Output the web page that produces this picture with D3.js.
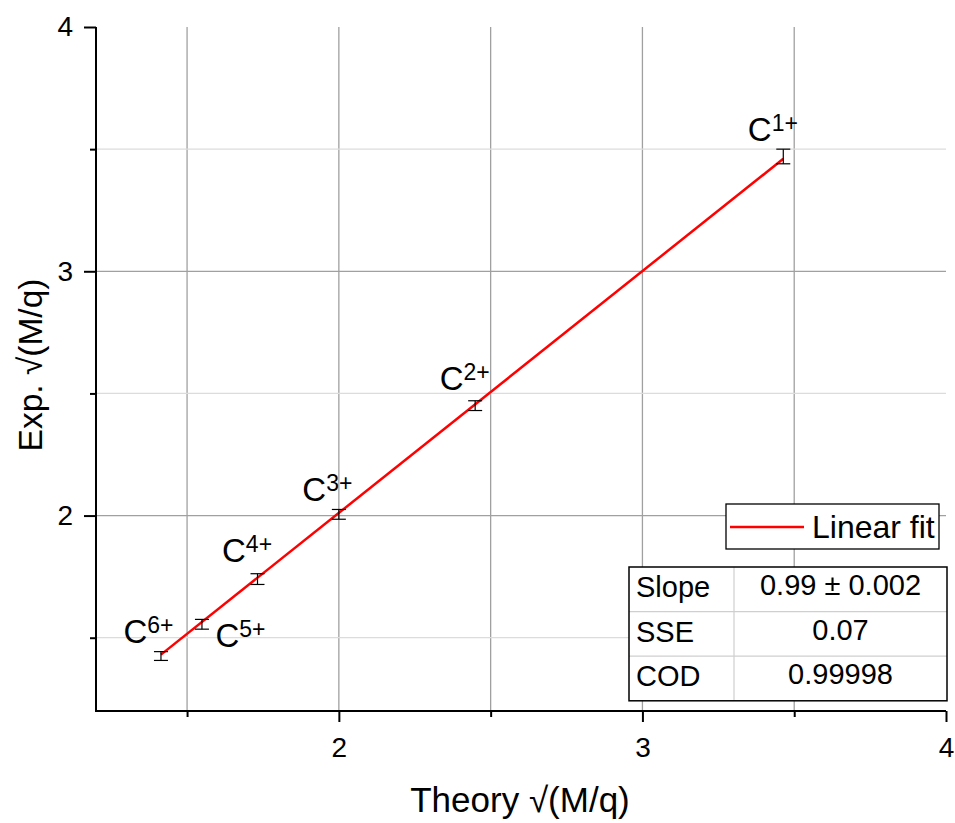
<!DOCTYPE html>
<html><head><meta charset="utf-8">
<script src="https://cdn.jsdelivr.net/npm/d3@7"></script>
<style>
html,body{margin:0;padding:0;background:#fff;}
svg{display:block;font-family:"Liberation Sans",Arial,sans-serif;}
.tick text{font-size:28px !important;font-family:"Liberation Sans",Arial,sans-serif !important;}
</style></head>
<body><svg id="c" width="955" height="823"></svg>
<script>
// ---- data ----
const labels = ["C", "C", "C", "C", "C", "C"];
const charges = ["1+", "2+", "3+", "4+", "5+", "6+"];
const theoryVals = [3.464, 2.449, 2.000, 1.732, 1.549, 1.414];
const expVals = [3.47, 2.45, 2.005, 1.74, 1.555, 1.425];
const expErr = [0.03, 0.02, 0.02, 0.022, 0.02, 0.018];
const fitSlope = 0.99;
const fitIntercept = 0.031;
const fitRange = [1.414, 3.464];
const majorTicks = [2, 3, 4];
const minorTicks = [1.5, 2.5, 3.5];
const tableRows = [["Slope", "0.99 \u00B1 0.002"], ["SSE", "0.07"], ["COD", "0.99998"]];
const legendLabel = "Linear fit";
const xTitle = "Theory \u221A(M/q)";
const yTitle = "Exp. \u221A(M/q)";

// ---- layout ----
const svg = d3.select("#c");
const L = 96, R = 946, T = 27, B = 711;
const x = d3.scaleLinear().domain([1.2, 4]).range([L, R]);
const y = d3.scaleLinear().domain([1.2, 4]).range([B, T]);

// grid
const g = svg.append("g");
[...minorTicks, 2, 3].forEach(v => {
  g.append("line").attr("x1", x(v)).attr("x2", x(v)).attr("y1", T).attr("y2", B)
    .attr("stroke", "#a0a0a0").attr("stroke-width", 1.3);
});
minorTicks.forEach(v => {
  g.append("line").attr("x1", L).attr("x2", R).attr("y1", y(v)).attr("y2", y(v))
    .attr("stroke", "#dcdcdc").attr("stroke-width", 1.3);
});
[2, 3].forEach(v => {
  g.append("line").attr("x1", L).attr("x2", R).attr("y1", y(v)).attr("y2", y(v))
    .attr("stroke", "#a0a0a0").attr("stroke-width", 1.3);
});

// axes
const xAxis = d3.axisBottom(x).tickValues(majorTicks).tickSize(11).tickPadding(15).tickFormat(d3.format("d"));
const yAxis = d3.axisLeft(y).tickValues(majorTicks).tickSize(12).tickPadding(11).tickFormat(d3.format("d"));
const xMinor = d3.axisBottom(x).tickValues(minorTicks).tickSize(6).tickFormat("");
const yMinor = d3.axisLeft(y).tickValues(minorTicks).tickSize(6).tickFormat("");

function styleAxis(sel) {
  sel.attr("font-size", 28).attr("font-family", "'Liberation Sans',Arial,sans-serif");
  sel.select(".domain").remove();
  sel.selectAll("line").attr("stroke", "#000").attr("stroke-width", 2);
  sel.selectAll("text").attr("fill", "#000").attr("font-size", 28);
}
svg.append("g").attr("transform", `translate(0,${B})`).call(xAxis).call(styleAxis);
svg.append("g").attr("transform", `translate(${L},0)`).call(yAxis).call(styleAxis);
svg.append("g").attr("transform", `translate(0,${B})`).call(xMinor).call(styleAxis);
svg.append("g").attr("transform", `translate(${L},0)`).call(yMinor).call(styleAxis);
svg.append("path").attr("d", `M${L},${T}V${B}H${R}`).attr("fill", "none")
  .attr("stroke", "#000").attr("stroke-width", 2);

// fit line
svg.append("line")
  .attr("x1", x(fitRange[0])).attr("y1", y(fitSlope * fitRange[0] + fitIntercept))
  .attr("x2", x(fitRange[1])).attr("y2", y(fitSlope * fitRange[1] + fitIntercept))
  .attr("stroke", "#ff0000").attr("stroke-width", 2.5);

// error bars
const eb = svg.append("g").attr("stroke", "#000").attr("stroke-width", 1.2);
theoryVals.forEach((tv, i) => {
  const cx = x(tv), y1 = y(expVals[i] + expErr[i]), y2 = y(expVals[i] - expErr[i]);
  eb.append("line").attr("x1", cx).attr("x2", cx).attr("y1", y1).attr("y2", y2);
  eb.append("line").attr("x1", cx - 7).attr("x2", cx + 7).attr("y1", y1).attr("y2", y1);
  eb.append("line").attr("x1", cx - 7).attr("x2", cx + 7).attr("y1", y2).attr("y2", y2);
});

// point labels
const labelOffsets = [[-35.5, -15], [-35.5, -16], [-36.5, -13], [-35.5, -17], [13.5, 23], [-37.5, -13]];
theoryVals.forEach((tv, i) => {
  const t = svg.append("text")
    .attr("x", x(tv) + labelOffsets[i][0]).attr("y", y(expVals[i]) + labelOffsets[i][1])
    .style("font-size", "33px").attr("fill", "#000");
  t.append("tspan").text(labels[i]);
  t.append("tspan").attr("dy", -10).style("font-size", "23px").text(charges[i]);
});

// axis titles
svg.append("text").attr("x", 520).attr("y", 812).attr("text-anchor", "middle")
  .style("font-size", "35px").text(xTitle);
svg.append("text").attr("transform", "translate(42,365) rotate(-90)").attr("text-anchor", "middle")
  .style("font-size", "33.5px").text(yTitle);

// legend
const lg = svg.append("g");
lg.append("rect").attr("x", 726).attr("y", 504).attr("width", 213).attr("height", 45)
  .attr("fill", "#fff").attr("stroke", "#000").attr("stroke-width", 1.3);
lg.append("line").attr("x1", 730).attr("x2", 804).attr("y1", 527).attr("y2", 527)
  .attr("stroke", "#ff0000").attr("stroke-width", 2.5);
lg.append("text").attr("x", 812).attr("y", 538).style("font-size", "32px").text(legendLabel);

// table
const tb = svg.append("g");
const tx0 = 629, tx1 = 947, tcol = 734, ty0 = 567, rowH = 44.6;
tb.append("rect").attr("x", tx0).attr("y", ty0).attr("width", tx1 - tx0).attr("height", rowH * 3)
  .attr("fill", "#fff");
tb.append("line").attr("x1", tcol).attr("x2", tcol).attr("y1", ty0).attr("y2", ty0 + rowH * 3)
  .attr("stroke", "#cfcfcf").attr("stroke-width", 1.2);
[1, 2].forEach(r => tb.append("line").attr("x1", tx0).attr("x2", tx1)
  .attr("y1", ty0 + rowH * r).attr("y2", ty0 + rowH * r).attr("stroke", "#cfcfcf").attr("stroke-width", 1.2));
tb.append("rect").attr("x", tx0).attr("y", ty0).attr("width", tx1 - tx0).attr("height", rowH * 3)
  .attr("fill", "none").attr("stroke", "#000").attr("stroke-width", 1.5);
tableRows.forEach((row, r) => {
  tb.append("text").attr("x", tx0 + 7).attr("y", ty0 + rowH * r + 30).style("font-size", "29px").text(row[0]);
  tb.append("text").attr("x", (tcol + tx1) / 2).attr("y", ty0 + rowH * r + 28).attr("text-anchor", "middle")
    .style("font-size", "29px").text(row[1]);
});
</script></body></html>
